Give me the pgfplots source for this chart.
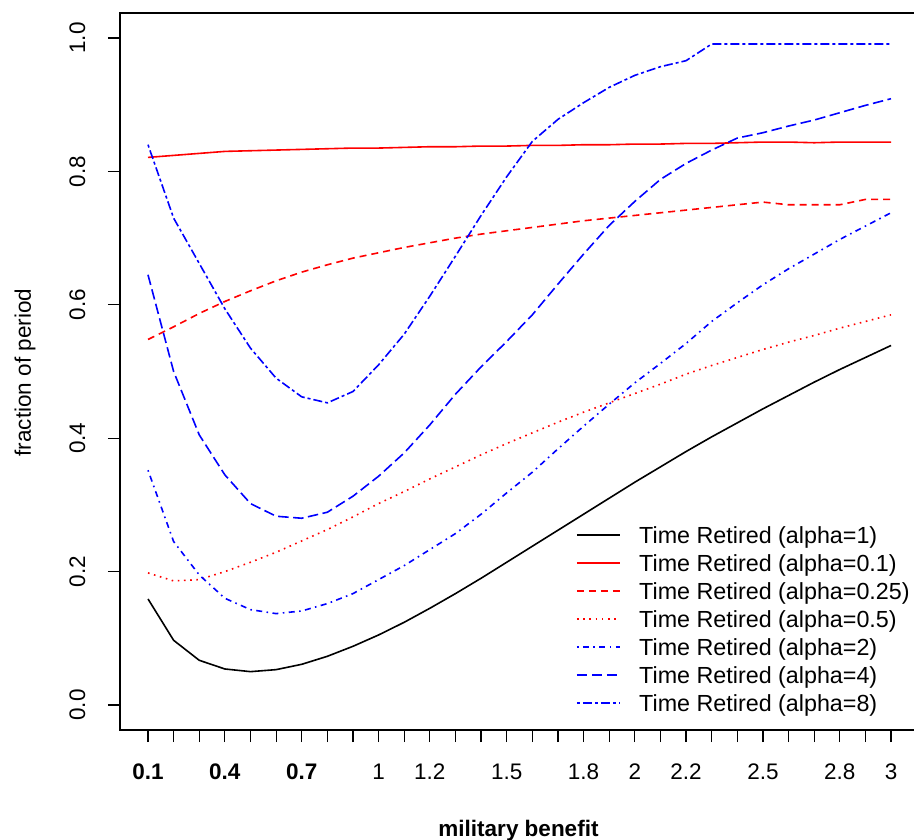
\documentclass[border=0pt]{standalone}
\usepackage{fontspec}
\setmainfont{Liberation Sans}
\usepackage{pgfplots}
\pgfplotsset{compat=1.18}
\usepackage{pgfplotstable}

\pgfplotstableread{
x a1 a01 a025 a05 a2 a4 a8
0.1 0.159 0.821 0.548 0.198 0.352 0.645 0.840
0.2 0.097 0.824 0.567 0.186 0.245 0.500 0.730
0.3 0.067 0.827 0.587 0.188 0.195 0.405 0.662
0.4 0.054 0.830 0.605 0.200 0.160 0.345 0.594
0.5 0.050 0.831 0.621 0.214 0.143 0.302 0.535
0.6 0.053 0.832 0.636 0.229 0.137 0.283 0.490
0.7 0.061 0.833 0.649 0.246 0.141 0.280 0.462
0.8 0.073 0.834 0.660 0.263 0.152 0.289 0.453
0.9 0.088 0.835 0.670 0.282 0.167 0.313 0.470
1.0 0.105 0.835 0.678 0.302 0.188 0.343 0.510
1.1 0.124 0.836 0.686 0.320 0.209 0.378 0.556
1.2 0.145 0.837 0.693 0.339 0.233 0.420 0.613
1.3 0.167 0.837 0.700 0.357 0.257 0.466 0.673
1.4 0.190 0.838 0.706 0.375 0.286 0.507 0.734
1.5 0.214 0.838 0.711 0.392 0.318 0.545 0.792
1.6 0.238 0.839 0.716 0.408 0.349 0.585 0.845
1.7 0.262 0.839 0.721 0.424 0.384 0.631 0.878
1.8 0.286 0.840 0.726 0.439 0.418 0.676 0.903
1.9 0.310 0.840 0.730 0.453 0.451 0.719 0.926
2.0 0.334 0.841 0.734 0.467 0.483 0.755 0.944
2.1 0.357 0.841 0.738 0.481 0.512 0.788 0.957
2.2 0.380 0.842 0.742 0.496 0.542 0.812 0.966
2.3 0.402 0.842 0.746 0.509 0.575 0.832 0.991
2.4 0.423 0.843 0.750 0.521 0.603 0.850 0.991
2.5 0.444 0.844 0.754 0.533 0.630 0.858 0.991
2.6 0.464 0.844 0.750 0.544 0.654 0.868 0.991
2.7 0.484 0.843 0.750 0.554 0.676 0.877 0.991
2.8 0.503 0.844 0.750 0.565 0.698 0.888 0.991
2.9 0.521 0.844 0.758 0.575 0.718 0.899 0.991
3.0 0.539 0.844 0.758 0.585 0.738 0.909 0.991
}\data

\begin{document}
\begin{tikzpicture}[x=1pt,y=1pt]
\begin{axis}[
  at={(120pt,-730pt)}, anchor=south west,
  scale only axis, width=801pt, height=717pt,
  xmin=-0.0093, xmax=3.117, ymin=-0.0375, ymax=1.0375,
  clip=false,
  axis line style={line width=1.3pt},
  tick align=outside, major tick length=12pt,
  tick style={black, line width=1.2pt},
  xtick pos=left, ytick pos=left,
  xtick={0.1,0.2,0.3,0.4,0.5,0.6,0.7,0.8,0.9,1.0,1.1,1.2,1.3,1.4,1.5,1.6,1.7,1.8,1.9,2.0,2.1,2.2,2.3,2.4,2.5,2.6,2.7,2.8,2.9,3.0},
  xticklabels={},
  ytick={0,0.2,0.4,0.6,0.8,1.0},
  yticklabels={0.0,0.2,0.4,0.6,0.8,1.0},
  tick label style={font=\fontsize{22.5}{26}\selectfont},
  yticklabel style={xshift=-19pt, rotate=90, anchor=south},
  xlabel={\bfseries military benefit},
  ylabel={fraction of period},
  every axis x label/.style={at={(axis description cs:0.4975,-0.140)}, anchor=center, font=\fontsize{22.5}{27}\selectfont},
  every axis y label/.style={at={(axis description cs:-0.1186,0.4986)}, anchor=center, rotate=90, font=\fontsize{22.5}{27}\selectfont},
  every axis plot/.append style={line width=1.6pt},
]
\addplot[draw=black, solid] table[x=x,y=a1] {\data};
\addplot[draw=red, solid] table[x=x,y=a01] {\data};
\addplot[draw=red, dash pattern=on 7pt off 5pt] table[x=x,y=a025] {\data};
\addplot[draw=red, dash pattern=on 1.6pt off 4.6pt] table[x=x,y=a05] {\data};
\addplot[draw=blue, dash pattern=on 1.6pt off 4.4pt on 6pt off 4.4pt] table[x=x,y=a2] {\data};
\addplot[draw=blue, dash pattern=on 10.5pt off 4.5pt] table[x=x,y=a4] {\data};
\addplot[draw=blue, dash pattern=on 3pt off 3pt on 9pt off 3pt] table[x=x,y=a8] {\data};
% x tick labels
\begin{scope}[every node/.style={anchor=base, inner sep=0pt, font=\fontsize{22.5}{26}\selectfont}]
\node at (axis cs:0.1,-0.1124) {\bfseries 0.1};
\node at (axis cs:0.4,-0.1124) {\bfseries 0.4};
\node at (axis cs:0.7,-0.1124) {\bfseries 0.7};
\node at (axis cs:1.0,-0.1124) {1};
\node at (axis cs:1.2,-0.1124) {1.2};
\node at (axis cs:1.5,-0.1124) {1.5};
\node at (axis cs:1.8,-0.1124) {1.8};
\node at (axis cs:2.0,-0.1124) {2};
\node at (axis cs:2.2,-0.1124) {2.2};
\node at (axis cs:2.5,-0.1124) {2.5};
\node at (axis cs:2.8,-0.1124) {2.8};
\node at (axis cs:3.0,-0.1124) {3};
\end{scope}
% legend
\def\lx{0.5705}\def\lxx{0.6242}\def\tx{0.6480}
\draw[black, line width=1.6pt] (axis description cs:\lx,0.2720) -- (axis description cs:\lxx,0.2720);
\draw[red, line width=1.6pt] (axis description cs:\lx,0.2329) -- (axis description cs:\lxx,0.2329);
\draw[red, line width=1.6pt, dash pattern=on 7pt off 5pt] (axis description cs:\lx,0.1939) -- (axis description cs:\lxx,0.1939);
\draw[red, line width=1.6pt, dash pattern=on 1.6pt off 4.6pt] (axis description cs:\lx,0.1548) -- (axis description cs:\lxx,0.1548);
\draw[blue, line width=1.6pt, dash pattern=on 1.6pt off 4.4pt on 6pt off 4.4pt] (axis description cs:\lx,0.1158) -- (axis description cs:\lxx,0.1158);
\draw[blue, line width=1.6pt, dash pattern=on 10.5pt off 4.5pt] (axis description cs:\lx,0.0767) -- (axis description cs:\lxx,0.0767);
\draw[blue, line width=1.6pt, dash pattern=on 3pt off 3pt on 9pt off 3pt] (axis description cs:\lx,0.0377) -- (axis description cs:\lxx,0.0377);
\begin{scope}[every node/.style={anchor=base west, inner sep=0pt, font=\fontsize{23.3}{27}\selectfont}]
\node at (axis description cs:\tx,0.2604) {Time Retired (alpha=1)};
\node at (axis description cs:\tx,0.2213) {Time Retired (alpha=0.1)};
\node at (axis description cs:\tx,0.1823) {Time Retired (alpha=0.25)};
\node at (axis description cs:\tx,0.1432) {Time Retired (alpha=0.5)};
\node at (axis description cs:\tx,0.1042) {Time Retired (alpha=2)};
\node at (axis description cs:\tx,0.0651) {Time Retired (alpha=4)};
\node at (axis description cs:\tx,0.0261) {Time Retired (alpha=8)};
\end{scope}
\end{axis}
\pgfresetboundingbox
\path[use as bounding box] (0pt,0pt) rectangle (914pt,-840pt);
\end{tikzpicture}
\end{document}
